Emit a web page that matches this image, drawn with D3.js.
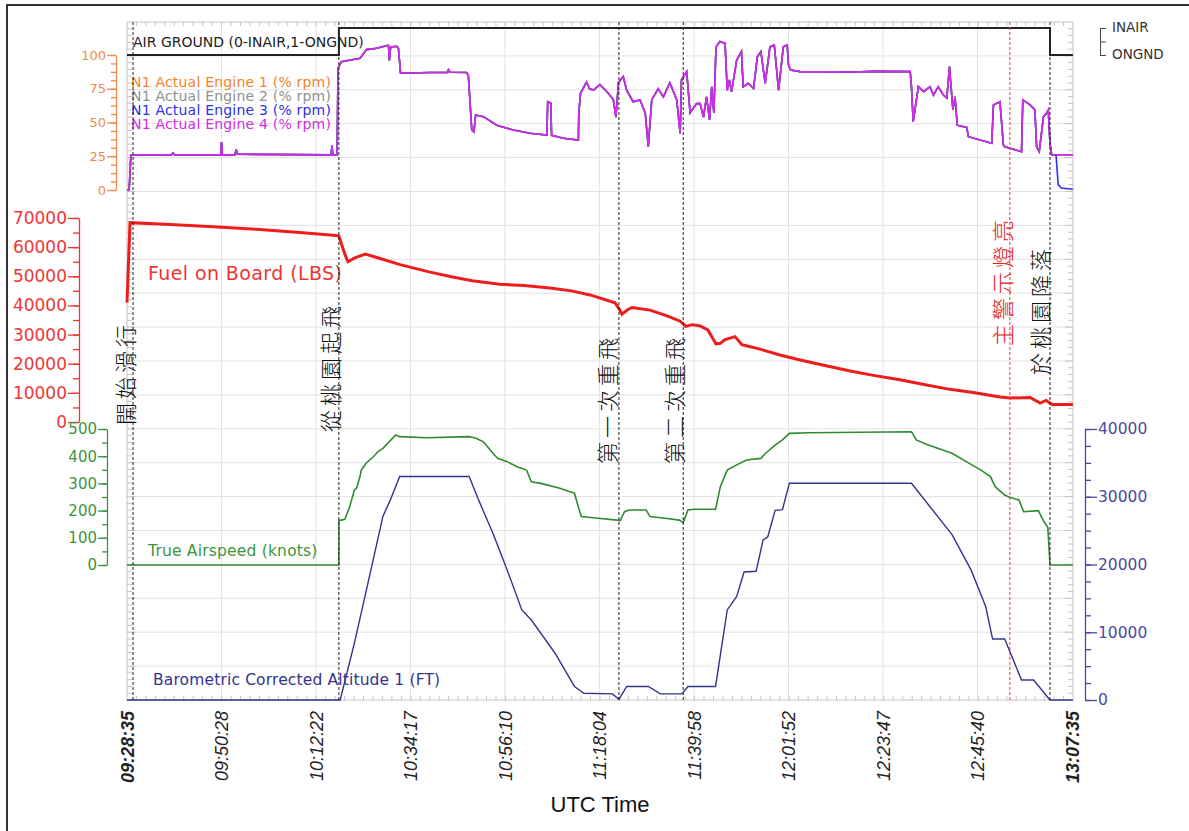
<!DOCTYPE html>
<html>
<head>
<meta charset="utf-8">
<script src="https://cdn.jsdelivr.net/npm/d3@7"></script>
<style>
  body { margin: 0; background: #fff; }
  svg { display: block; }
</style>
</head>
<body>
<svg width="1189" height="831"></svg>
<script>
// ---- data (time = minutes after 09:28:35 UTC) ----
const timeTickLabels = ["09:28:35", "09:50:28", "10:12:22", "10:34:17", "10:56:10", "11:18:04",
                        "11:39:58", "12:01:52", "12:23:47", "12:45:40", "13:07:35"];
const timeTickMinutes = [0, 21.9, 43.8, 65.7, 87.6, 109.5, 131.4, 153.3, 175.2, 197.1, 219];

// 0 = INAIR, 1 = ONGND
const airGround = [[0, 1], [49.1, 0], [213.9, 1], [219.2, 1]];

const n1Base = [
  [0, 0], [0.5, 0], [0.9, 26], [10.3, 26], [10.7, 27.5], [11.1, 26], [21.7, 26], [21.9, 35.5], [22.1, 26],
  [25.0, 26], [25.3, 30], [25.6, 26.5], [47.3, 26], [47.5, 33], [47.7, 26], [48.7, 26], [48.9, 90],
  [49.7, 95], [54.0, 97.5], [55.5, 104], [57.9, 105], [60.2, 107], [60.6, 107], [60.8, 96], [61.1, 106],
  [62.5, 106.5], [62.9, 105], [63.4, 86.5], [70.2, 87], [74.3, 87], [74.5, 89], [74.9, 87.2], [78.7, 87],
  [79.1, 85], [79.9, 44.4], [80.4, 43], [80.8, 55.6], [82.6, 54.3], [85.7, 48], [89.5, 44.4], [93.4, 42],
  [97.3, 40.7], [97.5, 65.4], [98.2, 64.5], [98.4, 40.5], [101.1, 38.3], [104.6, 37], [104.7, 57],
  [105.1, 71.6], [106.5, 80], [107.2, 75], [108.1, 74], [109.6, 78], [111.2, 73], [112.7, 67], [113.3, 54],
  [113.9, 79.5], [115.0, 84], [115.8, 74], [117.3, 65.4], [118.9, 66.7], [120.1, 57], [120.8, 32],
  [121.6, 66.7], [123.1, 75], [124.3, 69], [125.8, 79.5], [127.4, 66.7], [128.2, 42], [128.5, 81.7],
  [129.7, 87.6], [130.5, 57], [132.0, 64], [132.8, 64], [133.6, 54], [134.3, 69], [135.0, 52], [135.5, 76.5],
  [136.0, 57], [136.5, 106], [137.4, 110], [138.6, 108.6], [139.1, 74], [139.6, 81.5], [140.1, 72.8],
  [141.3, 96.3], [142.4, 102.5], [142.8, 76.5], [144.0, 79], [145.2, 75.3], [146.1, 98.8], [146.9, 102.5],
  [147.9, 79], [149.0, 106], [150.0, 107.4], [151.0, 74], [152.1, 106], [153.0, 107.4], [153.3, 92.6],
  [153.8, 88.9], [156.0, 87.7], [168.3, 87.4], [173.0, 87.9], [181.5, 87.7], [181.8, 76.5], [182.2, 50.6],
  [183.4, 76.5], [184.6, 72.8], [186.1, 76.5], [186.9, 70.3], [188.0, 76.5], [189.2, 70.3], [190.0, 68],
  [190.6, 91.4], [191.4, 59.3], [191.9, 69], [192.4, 48], [194.6, 46.4], [195.0, 39.5], [200.4, 34.6],
  [200.8, 63], [202.3, 65.4], [203.1, 33.3], [203.5, 32], [207.3, 28.4], [207.6, 66.7], [209.3, 63],
  [210.4, 59.3], [210.8, 32], [211.4, 28.4], [212.4, 54.3], [213.1, 56.8], [213.5, 59.3], [213.9, 34.6],
  [214.3, 26], [219.2, 26]
];
// engine 3 spools down after landing
const n1Eng3Tail = [[215.3, 26], [215.8, 4], [216.5, 1.5], [219.2, 0.5]];

const fuel = [
  [0, 41000], [0.7, 68400], [10, 67800], [20, 67000], [30, 66100], [40, 65000], [48.5, 64000], [49.1, 63800],
  [50.5, 57500], [51.2, 55000], [52.8, 56300], [55.2, 57600], [57.5, 56600], [63.3, 54000], [70, 51500],
  [74.9, 49900], [80, 48500], [86.4, 47300], [92, 46800], [98, 46000], [103, 45000], [107.3, 43600],
  [113.1, 40900], [114.2, 38500], [114.7, 37000], [116, 38500], [117, 39300], [121.2, 38400], [125, 36500],
  [128.2, 34600], [129.5, 32800], [131, 33400], [132.8, 33000], [134.6, 31600], [136.5, 26800], [137.5, 27000],
  [138.6, 28300], [140.9, 29300], [142.5, 26500], [144, 26000], [146.7, 25000], [151.3, 23000], [156, 21300],
  [162, 19300], [167.6, 17500], [173, 16000], [179.1, 14500], [185, 12800], [190.7, 11200], [196.5, 10000],
  [202.3, 8600], [204.6, 8200], [209.3, 8400], [211.6, 6500], [213, 7400], [214.4, 6000], [219.2, 6000]
];

const airspeed = [
  [0, 0], [49.1, 0], [49.1, 163], [49.6, 165], [50.5, 168], [51.6, 214], [52.7, 276], [53.2, 282], [54.0, 325],
  [54.3, 349], [55.4, 374], [57.1, 398], [58.2, 417], [59.3, 429], [60.4, 447], [62.3, 478], [63.2, 472],
  [69.3, 468], [79.3, 472], [80.9, 466], [82.6, 453], [84.8, 411], [85.9, 392], [88.1, 380], [90.4, 361],
  [92.6, 349], [93.7, 306], [95.9, 300], [100.3, 282], [102.5, 270], [103.7, 264], [104.8, 202], [105.3, 178],
  [109.2, 172], [113.6, 165], [114.3, 163], [115.3, 196], [116.4, 202], [120.3, 202], [121.2, 178],
  [124.7, 172], [128.0, 165], [128.9, 156], [130.0, 202], [131.4, 205], [136.4, 205], [137.5, 288],
  [139.1, 349], [141.3, 368], [143.6, 386], [146.9, 392], [148.0, 411], [150.2, 441], [151.9, 460],
  [153.5, 484], [158.0, 486], [181.8, 490], [182.9, 460], [185.7, 441], [191.2, 411], [194.5, 380],
  [197.9, 349], [200.1, 325], [201.2, 288], [203.4, 257], [204.5, 249], [206.7, 239], [207.8, 196],
  [211.2, 200], [212.3, 165], [213.4, 138], [213.9, 0], [219.2, 0]
];

const altitude = [
  [0, 0], [49.4, 0], [52.7, 8400], [56.0, 17700], [59.3, 27100], [61.0, 29500], [63.2, 33000], [79.3, 33000],
  [81.5, 29500], [84.8, 24600], [88.1, 19200], [91.5, 13300], [93.7, 11800], [98.1, 7900], [99.2, 6900],
  [103.7, 2000], [105.9, 1000], [112.5, 900], [114.0, 100], [115.8, 2000], [120.8, 2000], [123.6, 900],
  [128.6, 900], [130.0, 2000], [136.4, 2000], [139.1, 13300], [141.3, 15300], [143.0, 18900], [145.8, 19000],
  [147.4, 23600], [148.5, 24100], [150.2, 28000], [151.9, 28100], [153.5, 32000], [181.8, 32000],
  [191.2, 24400], [195.6, 19200], [199.0, 13800], [200.6, 9000], [203.4, 9000], [207.3, 2950],
  [210.1, 2950], [213.9, 0], [219.2, 0]
];

const eventTimes = [1.4, 49.1, 114.0, 128.9, 204.6, 213.9];
const eventLabels = ["開始滑行", "從桃園起飛", "第一次重飛", "第二次重飛", "主警示燈亮", "於桃園降落"];

// ---- drawing ----
const svg = d3.select("svg");
const FONT = "'DejaVu Sans', Verdana, sans-serif";
const plot = { left: 127, right: 1073, top: 22, bottom: 700 };

const colors = {
  eng1: "#f5842a", eng2: "#909090", eng3: "#2f2fe8", eng4: "#cf2ee6",
  n1Axis: "#f08a4b", fuel: "#ee1c1c", fuelAxis: "#ee3535",
  speed: "#2e8b2e", speedAxis: "#3c963c", alt: "#34348f", altAxis: "#4a4aa0"
};

// outer border
svg.append("rect")
  .attr("x", 7).attr("y", 5).attr("width", 1200).attr("height", 840)
  .attr("fill", "none").attr("stroke", "#333").attr("stroke-width", 2);

// Scales
const x = d3.scaleLinear().domain([0, 219]).range([127, 1072]);
const yAG = d3.scaleLinear().domain([0, 1]).range([28, 55]);
const yN1 = d3.scaleLinear().domain([0, 100]).range([190, 55]);
const yFuel = d3.scaleLinear().domain([0, 70000]).range([422, 218]);
const ySpd = d3.scaleLinear().domain([0, 500]).range([565, 429]);
const yAlt = d3.scaleLinear().domain([0, 40000]).range([700, 429]);
const rows = d3.scaleLinear().domain([0, 20]).range([plot.bottom, plot.top]);

// Grid
const grid = svg.append("g").attr("stroke", "#e3e3e3").attr("stroke-width", 1);
grid.selectAll(null).data(timeTickMinutes.slice(1, -1)).enter().append("line")
  .attr("x1", d => x(d)).attr("x2", d => x(d))
  .attr("y1", plot.top).attr("y2", plot.bottom);
grid.selectAll(null).data(d3.range(1, 20)).enter().append("line")
  .attr("x1", plot.left).attr("x2", plot.right)
  .attr("y1", d => rows(d)).attr("y2", d => rows(d));

// frame + little ticks along the frame
const frame = svg.append("g").attr("stroke", "#c4c4c4").attr("stroke-width", 1);
frame.append("rect")
  .attr("x", plot.left).attr("y", plot.top)
  .attr("width", plot.right - plot.left).attr("height", plot.bottom - plot.top)
  .attr("fill", "none");
const hStep = d3.scaleLinear().domain([0, 100]).range([plot.left, plot.right]);
frame.selectAll(null).data(d3.range(1, 100)).enter().append("line")
  .attr("x1", d => hStep(d)).attr("x2", d => hStep(d))
  .attr("y1", plot.top).attr("y2", plot.top + 4);
frame.selectAll(null).data(d3.range(1, 100)).enter().append("line")
  .attr("x1", d => hStep(d)).attr("x2", d => hStep(d))
  .attr("y1", plot.bottom).attr("y2", plot.bottom - 4);
const vStep = d3.scaleLinear().domain([0, 100]).range([plot.bottom, plot.top]);
frame.selectAll(null).data(d3.range(1, 100)).enter().append("line")
  .attr("x1", plot.left).attr("x2", d => plot.left + (d % 5 === 0 ? 8 : 5))
  .attr("y1", d => vStep(d)).attr("y2", d => vStep(d));
frame.selectAll(null).data(d3.range(1, 100)).enter().append("line")
  .attr("x1", plot.right).attr("x2", d => plot.right - (d % 5 === 0 ? 8 : 5))
  .attr("y1", d => vStep(d)).attr("y2", d => vStep(d));

// helper for a colored axis with minor ticks
function colorAxis(axisFn, scale, pos, majors, minors, majorLen, minorLen, color, fontSize, fmt) {
  const g = svg.append("g").attr("transform", `translate(${pos},0)`);
  g.append("g")
    .call(axisFn(scale).tickValues(minors).tickFormat("").tickSize(minorLen).tickSizeOuter(0))
    .call(a => a.select(".domain").remove());
  g.append("g")
    .call(axisFn(scale).tickValues(majors).tickFormat(fmt).tickSize(majorLen).tickPadding(1).tickSizeOuter(0));
  g.selectAll("line, path").attr("stroke", color).attr("stroke-width", 1.3);
  g.selectAll("text").attr("fill", color).attr("font-family", FONT).attr("font-size", fontSize);
  return g;
}

colorAxis(d3.axisLeft, yN1, 116, [0, 25, 50, 75, 100], d3.range(0, 100.1, 6.25), 9, 5,
  colors.n1Axis, "13px", d3.format("d"));
colorAxis(d3.axisLeft, yFuel, 79, d3.range(0, 70001, 10000), d3.range(0, 70001, 5000), 11, 6,
  colors.fuelAxis, "17px", d3.format("d"));
colorAxis(d3.axisLeft, ySpd, 107, d3.range(0, 501, 100), d3.range(0, 501, 50), 9, 5,
  colors.speedAxis, "15px", d3.format("d"));
colorAxis(d3.axisRight, yAlt, 1085, d3.range(0, 40001, 10000), d3.range(0, 40001, 2500), 12, 6,
  colors.altAxis, "15.5px", d3.format("d"));

// Air ground discrete axis (right)
const agAxis = svg.append("g").attr("transform", "translate(1100,0)");
agAxis.call(d3.axisRight(yAG).tickValues([0, 0.5, 1]).tickFormat("").tickSize(6).tickSizeOuter(0));
agAxis.selectAll("line, path").attr("stroke", "#444");
agAxis.selectAll(null).data(["INAIR", "ONGND"]).enter().append("text")
  .attr("x", 12).attr("y", (d, i) => yAG(i))
  .attr("dominant-baseline", "middle")
  .attr("font-family", FONT).attr("font-size", "13.5px").attr("fill", "#333")
  .text(d => d);

// X axis labels
const xAxis = svg.append("g").attr("transform", `translate(0,${plot.bottom})`)
  .call(d3.axisBottom(x).tickValues(timeTickMinutes)
    .tickFormat((d, i) => timeTickLabels[i]).tickSize(0));
xAxis.select(".domain").remove();
xAxis.selectAll("text")
  .attr("transform", "rotate(-90)")
  .attr("x", -11).attr("y", 0).attr("dy", "0.36em")
  .style("text-anchor", "end")
  .attr("font-family", "'Liberation Sans', Arial, sans-serif")
  .attr("font-size", "18px").attr("font-style", "italic").attr("fill", "#222")
  .attr("font-weight", (d, i) => (i === 0 || i === timeTickLabels.length - 1) ? "bold" : "normal");

svg.append("text")
  .attr("x", 600).attr("y", 812).attr("text-anchor", "middle")
  .attr("font-family", "'Liberation Sans', Arial, sans-serif").attr("font-size", "22px")
  .attr("fill", "#111").text("UTC Time");

// Series
const lineOf = (ys, curve) => d3.line().x(d => x(d[0])).y(d => ys(d[1])).curve(curve || d3.curveLinear);

svg.append("path").datum(airGround)
  .attr("d", lineOf(yAG, d3.curveStepAfter))
  .attr("fill", "none").attr("stroke", "#222").attr("stroke-width", 2);

const n1Eng3 = n1Base.filter(d => d[0] < 215.3).concat(n1Eng3Tail);
const engines = [
  { data: n1Base, color: colors.eng1 },
  { data: n1Base, color: colors.eng2 },
  { data: n1Eng3, color: colors.eng3 },
  { data: n1Base, color: colors.eng4 }
];
for (const eng of engines) {
  svg.append("path").datum(eng.data)
    .attr("d", lineOf(yN1))
    .attr("fill", "none").attr("stroke", eng.color).attr("stroke-width", 1.6);
}

svg.append("path").datum(fuel)
  .attr("d", lineOf(yFuel))
  .attr("fill", "none").attr("stroke", colors.fuel).attr("stroke-width", 3);

svg.append("path").datum(airspeed)
  .attr("d", lineOf(ySpd))
  .attr("fill", "none").attr("stroke", colors.speed).attr("stroke-width", 1.6);

svg.append("path").datum(altitude)
  .attr("d", lineOf(yAlt))
  .attr("fill", "none").attr("stroke", colors.alt).attr("stroke-width", 1.4);

// Series labels
const labels = [
  { text: "AIR GROUND (0-INAIR,1-ONGND)", x: 133, y: 47, size: "14px", color: "#222", ls: 0 },
  { text: "N1 Actual Engine 1 (% rpm)", x: 131, y: 87, size: "14px", color: colors.eng1, ls: 0.2 },
  { text: "N1 Actual Engine 2 (% rpm)", x: 131, y: 101, size: "14px", color: colors.eng2, ls: 0.2 },
  { text: "N1 Actual Engine 3 (% rpm)", x: 131, y: 115, size: "14px", color: colors.eng3, ls: 0.2 },
  { text: "N1 Actual Engine 4 (% rpm)", x: 131, y: 129, size: "14px", color: colors.eng4, ls: 0.2 },
  { text: "Fuel on Board (LBS)", x: 148, y: 280, size: "19px", color: colors.fuelAxis, ls: 0.4 },
  { text: "True Airspeed (knots)", x: 148, y: 556, size: "15.5px", color: colors.speedAxis, ls: 0.2 },
  { text: "Barometric Corrected Altitude 1 (FT)", x: 153, y: 685, size: "15.5px", color: colors.alt, ls: 0.15 }
];
svg.selectAll(null).data(labels).enter().append("text")
  .attr("x", d => d.x).attr("y", d => d.y)
  .attr("font-family", FONT).attr("font-size", d => d.size).attr("fill", d => d.color)
  .attr("letter-spacing", d => d.ls + "px")
  .text(d => d.text);

// Event markers
const eventStyle = [
  { dx: -11, cy: 373, color: "#111" },
  { dx: -12, cy: 367, color: "#111" },
  { dx: -15, cy: 399, color: "#111" },
  { dx: -12, cy: 399, color: "#111" },
  { dx: -11, cy: 281, color: "#e02020" },
  { dx: -13, cy: 310, color: "#111" }
];
eventTimes.forEach((t, i) => {
  const st = eventStyle[i];
  svg.append("line")
    .attr("x1", x(t)).attr("x2", x(t))
    .attr("y1", plot.top).attr("y2", plot.bottom)
    .attr("stroke", i === 4 ? "#e04040" : "#222").attr("stroke-width", 1)
    .attr("stroke-dasharray", "3,2");
  svg.append("text")
    .attr("transform", `translate(${x(t) + st.dx + 2},${st.cy}) rotate(-90)`)
    .attr("text-anchor", "middle").attr("dominant-baseline", "central")
    .attr("font-family", "'Noto Sans CJK TC', sans-serif").attr("font-size", "22px")
    .attr("letter-spacing", "4px").attr("font-weight", 300)
    .attr("fill", st.color)
    .text(eventLabels[i]);
});
</script>
</body>
</html>
